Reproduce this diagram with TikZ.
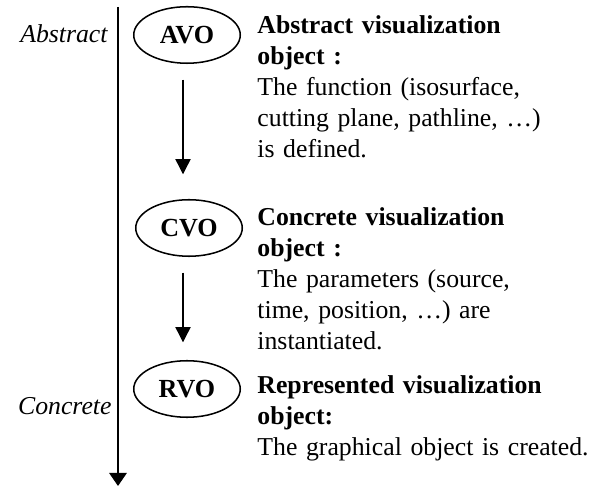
\documentclass[tikz,border=0pt]{standalone}
\usepackage{fontspec}
\setmainfont{Liberation Serif}
\usetikzlibrary{shapes.geometric}
\usetikzlibrary{arrows.meta}
\usetikzlibrary{positioning}

\begin{document}
\begin{tikzpicture}[x=0.46pt,y=0.46pt]
    \tikzstyle{every node}=[font=\fontsize{11.85}{14.25}\selectfont]
    \tikzstyle{vobj}=[draw=black,line width=0.7pt,ellipse,minimum width=49pt,minimum height=26pt,inner sep=0pt,font=\fontsize{12}{14.25}\selectfont\bfseries]
    \tikzstyle{desc}=[anchor=north west,inner sep=0pt,text width=160pt,align=left]
    \tikzstyle{level}=[anchor=base east,inner sep=0pt,font=\fontsize{11.85}{14.25}\selectfont\itshape]
    \tikzstyle{flow}=[draw=black,line width=0.6pt,-{Triangle[width=7pt,length=7pt]}]
    \tikzstyle{axis}=[draw=black,line width=0.9pt,-{Triangle[width=8pt,length=6pt]}]

    \useasboundingbox (0,0) rectangle (599,489);

    % abstraction axis
    \coordinate (top) at (118,482);
    \coordinate (bottom) at (118,3);
    \draw[axis] (top) -- (bottom);
    \node[level] (abstract) at (108,446) {Abstract};
    \node[level] (concrete) at (112,74) {Concrete};

    \node[vobj] (avo) at (187,454) {AVO};
    \node[vobj] (cvo) at (189,261) {CVO};
    \node[vobj] (rvo) at (187,100) {RVO};

    \node[desc] (avotext) at (257,477.7) {\strut\textbf{Abstract visualization}\\
      \textbf{object :}\\ The function (isosurface,\\ cutting plane, pathline, …)\\ is defined.};
    \node[desc] (cvotext) at (257,285.7) {\strut\textbf{Concrete visualization}\\
      \textbf{object :}\\ The parameters (source,\\ time, position, …) are\\ instantiated.};
    \node[desc] (rvotext) at (257,117.7) {\strut\textbf{Represented visualization}\\
      \textbf{object:}\\ The graphical object is created.};

    \draw[flow] ([shift={(-4,-15.7)}]avo.south) -- ([shift={(-6,24.7)}]cvo.north);
    \draw[flow] ([shift={(-6,-15.7)}]cvo.south) -- ([shift={(-4,17.7)}]rvo.north);

\end{tikzpicture}
\end{document}
